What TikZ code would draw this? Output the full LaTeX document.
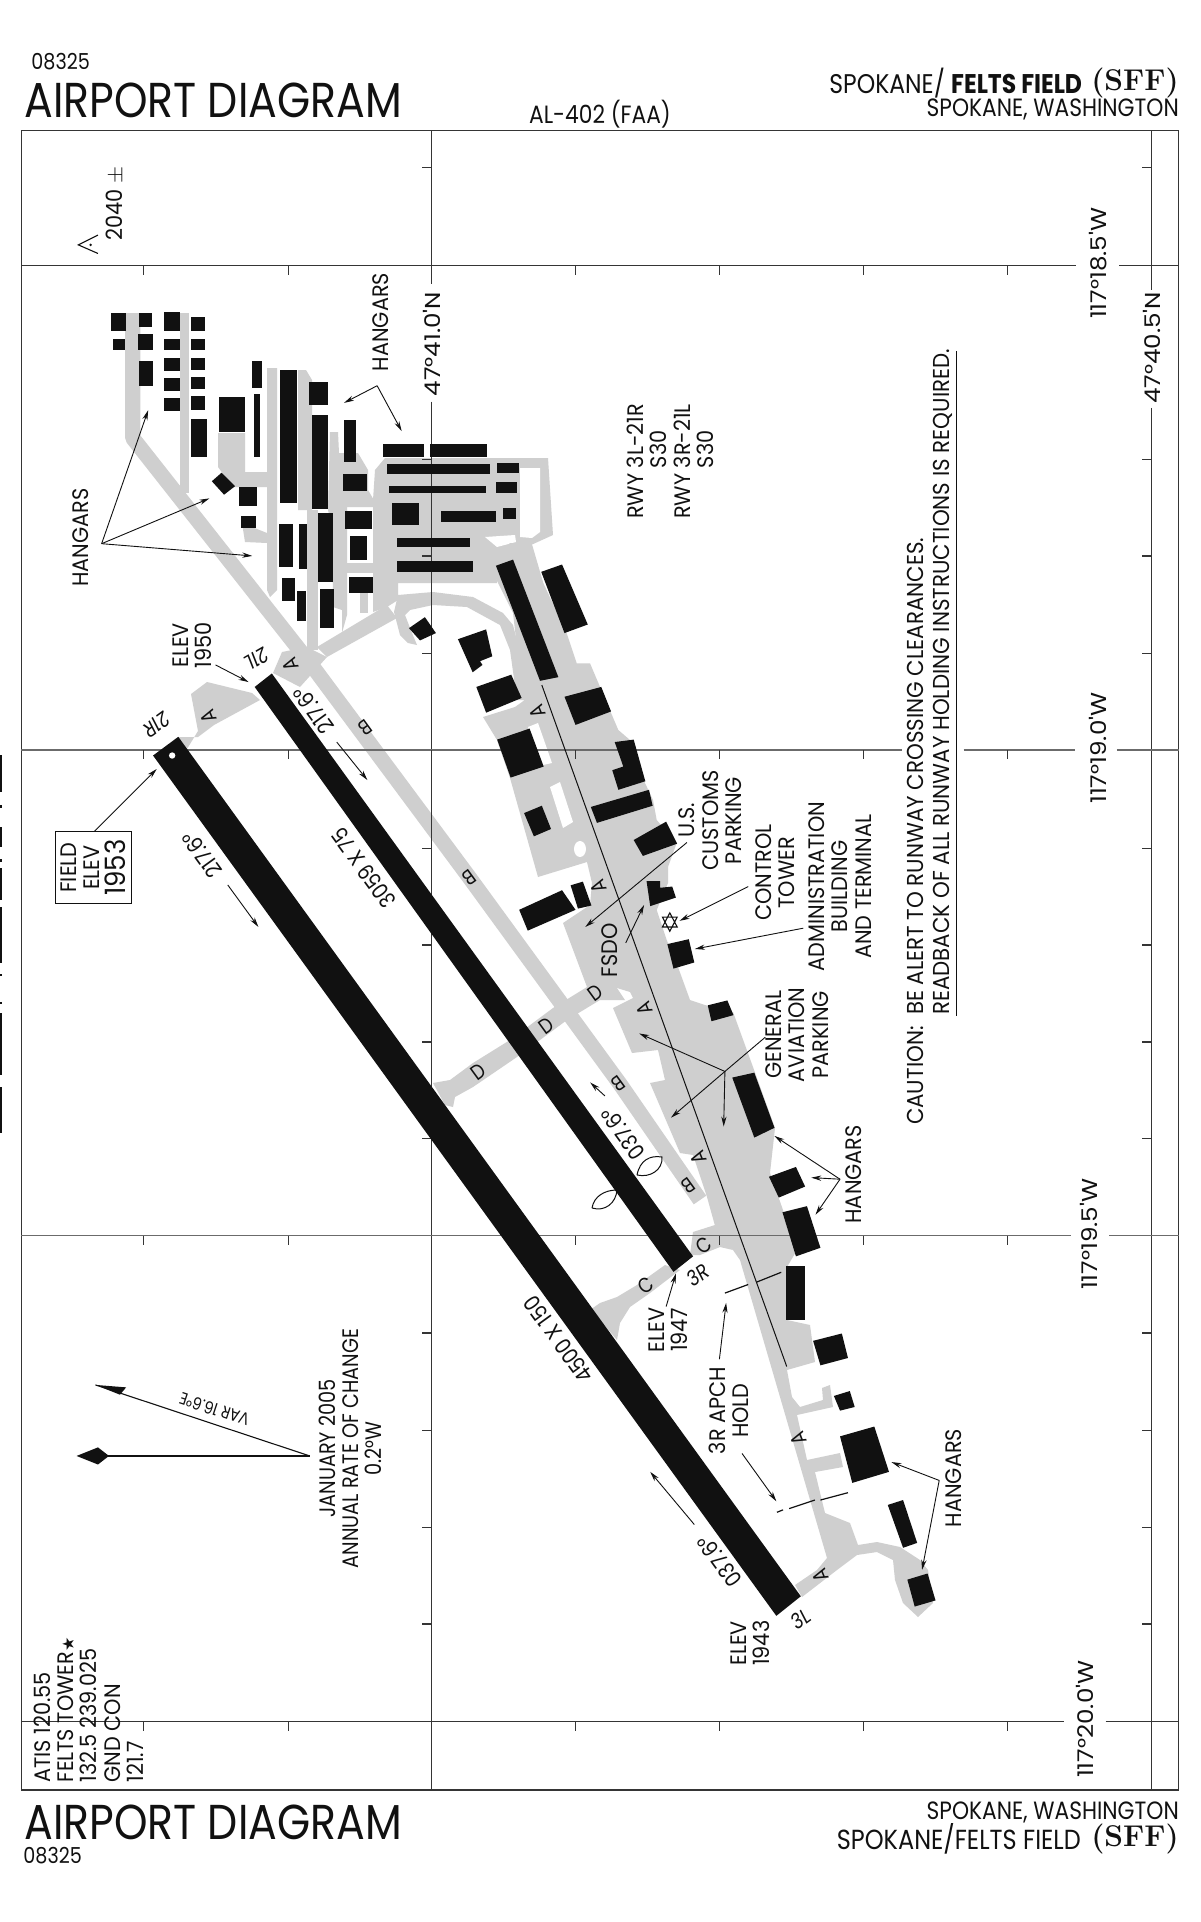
\documentclass[tikz,border=0pt]{standalone}
\usepackage{fontspec}
\usetikzlibrary{arrows.meta}
\newfontfamily\vf{Poppins}[FakeStretch=0.93]
\newfontfamily\nf{Poppins}[FakeStretch=0.86]
\newfontfamily\cf{Poppins}[FakeStretch=1.14]
\newfontfamily\hf{Poppins}[FakeStretch=0.87]
\newfontfamily\djv{DejaVu Sans}
\definecolor{tw}{HTML}{CFCFCF}
\definecolor{bk}{HTML}{111111}
\newcommand{\bld}[4]{\fill[bk] (#1,#3) rectangle (#2,#4);}
\tikzset{
 lab/.style={inner sep=0pt,align=center,text=bk,font=\vf\fontsize{11.2}{11.6}\selectfont},
 vlab/.style={lab,rotate=90},
 clab/.style={lab,rotate=90,font=\cf\fontsize{10.8}{11.6}\selectfont},
 nlab/.style={lab,rotate=90,font=\nf\fontsize{11.2}{11.6}\selectfont},
 rlab/.style={lab,rotate=126,font=\nf\fontsize{11.2}{11.6}\selectfont},
 twy/.style={lab,font=\nf\fontsize{10.5}{11}\selectfont},
 hd/.style={inner sep=0pt,text=bk},
 thin1/.style={line width=0.5pt,draw=bk},
 lead/.style={line width=0.45pt,draw=bk,-{Stealth[length=5pt,width=2.6pt]}},
 leadn/.style={line width=0.45pt,draw=bk},
 grid/.style={line width=0.6pt,draw=bk!85},
 gridb/.style={line width=0.85pt,draw=bk!62},
}
\begin{document}
\begin{tikzpicture}[x=0.5pt,y=-0.5pt]
\useasboundingbox (0,0) rectangle (1200,1922);
\fill[white] (0,0) rectangle (1200,1922);
% clipped remains of a margin text at the left edge
\draw[bk,line width=1.1pt] (1,755)--(1,792) (1,805)--(1,808) (1,827)--(1,847) (1,859)--(1,862) (1,868)--(1,900) (1,907)--(1,963) (1,974)--(1,976) (1,1002)--(1,1004) (1,1013)--(1,1075) (1,1087)--(1,1133);
% ---------- grey taxiways, real px
\draw[tw,line width=7.6pt,line join=round] (132.7,313)--(132.7,438)--(313,667)--(469,877)--(620,1084)--(700,1200);
\draw[tw,line width=4.7pt] (184.7,313)--(184.7,493);
\fill[tw] (218,433)--(245,433)--(245,472)--(267,472)--(267,487)--(233,487)--(218,467)--cycle;
\fill[tw] (267,368)--(277,368)--(277,590)--(270,597)--(267,590)--cycle;
\fill[tw] (242,523)--(267,533)--(267,543)--(245,542)--cycle;
\fill[tw] (298,370)--(306,370)--(312,380)--(312,510)--(298,510)--cycle;
\fill[tw] (307,510)--(318,510)--(318,650)--(307,650)--cycle;
\fill[tw] (330,432)--(338,432)--(339,453)--(358,453)--(368,470)--(368,490)--(375,502)--(375,507)--(347,507)--(347,527)--(332,527)--(328,510)--cycle;
\fill[tw] (332,510)--(347,510)--(347,615)--(342,633)--(342,610)--(333,607)--cycle;
\fill[tw] (347,563) rectangle (398,573);
\fill[tw] (360,592) rectangle (368,613);
% band to junction
\fill[tw] (317,647)--(387,605)--(397,618)--(327,657)--cycle;
\fill[tw] (282,652)--(307,647)--(327,657)--(300,687)--(273,673)--cycle;
% block
\fill[tw] (375,470)--(385,458)--(548,458)--(553,535)--(531,545)--(495,560)--(497,583)--(398,583)--(398,600)--(387,607)--(373,612)--(373,500)--cycle;
\fill[white] (520,468)--(540,468)--(540,532)--(532,538)--(520,537)--cycle;
\fill[white] (485,537)--(515,535)--(516,542)--(497,547)--cycle;
% curved road and hook
\fill[tw] (398,595)--(433,592)--(473,597)--(503,613)--(513,625)--(528,683)--(528,700)--(517,700)--(510,650)--(500,625)--(467,607)--(433,605)--(410,610)--(405,615)--(412,633)--(417,645)--(408,643)--(400,635)--(394,612)--cycle;
% main apron
\fill[tw] (531.7,543.3)--(543.3,583)--(566.7,633.3)--(576.7,663.3)--(590,663.3)--(618.3,730)--(630,740)--(645,783)--(653,800)--(656.7,820)--(676.7,843)--(668,867)--(668,883)--(656.7,910)--(666.7,940)--(678,967)--(690,1000)--(705,1005)--(733,1012)--(753,1067)--(775,1128)--(770,1173)--(783,1210)--(790,1237)--(797,1250)--(787,1267)--(787,1320)--(810,1325)--(815,1362)--(787,1370)--(792,1397)--(800,1407)--(823,1400)--(822,1388)--(830,1385)--(833,1407)--(797,1415)--(807,1460)--(840,1453)--(843,1467)--(815,1472)--(825,1513)--(850,1523)--(858,1545)--(877,1542)--(900,1547)--(920,1560)--(928,1570)--(933,1603)--(918,1617)--(903,1603)--(895,1580)--(893,1560)--(877,1552)--(857,1555)--(837,1570)--(802,1597)--(795,1585)--(817,1570)--(827,1558)--(740,1260)--(733,1250)--(717,1233)--(707,1197)--(693,1155)--(680,1153)--(650,1083)--(665,1080)--(658,1050)--(632,1053)--(613,1008)--(633,998)--(630,992)--(617,988)--(603,993)--(587,987)--(563,923)--(590,905)--(592,883)--(587,862)--(538,877)--(510,778)--(497,740)--(483,717)--(515,707)--(522,702)--(528,697)--(517,647)--(513,613)--(495,577)--(493,560)--(510,543)--cycle;
\fill[white] (528,727)--(538,723)--(552,763)--(543,765)--cycle;
\fill[white] (550,787)--(560,782)--(573,822)--(563,828)--cycle;
\fill[white] (580,849) ellipse (6 and 8);
% D, C, A connectors
\fill[tw] (433,1083)--(450,1080)--(473,1063)--(510,1040)--(553,1008)--(587,987)--(617,988)--(625,1000)--(600,1000)--(567,1020)--(517,1057)--(473,1087)--(455,1097)--(453,1107)--(445,1105)--cycle;
\fill[tw] (590,1310)--(600,1303)--(617,1297)--(637,1285)--(665,1265)--(680,1270)--(650,1293)--(630,1307)--(620,1323)--(617,1340)--(600,1320)--cycle;
\fill[tw] (690,1255)--(693,1232)--(715,1225)--(733,1250)--(720,1247)--(700,1255)--cycle;
\fill[tw] (178,737)--(187,749)--(198,731)--(191,694)--(207,682)--(252,693)--(260,700)--(214,725)--(198,737)--cycle;
% ---------- S-coordinates
\begin{scope}[scale=1.2245]
% frame and grid
\draw[grid,line width=.8pt] (17.5,106.5) rectangle (962.5,1462);
\draw[grid] (352.5,106.5)--(352.5,232) (352.5,328)--(352.5,1462);
\draw[grid] (940.6,106.5)--(940.6,237) (940.6,333)--(940.6,1462);
\draw[grid] (17.5,216.7)--(879,216.7) (914,216.7)--(962.5,216.7);
\draw[gridb] (17.5,612.5)--(737,612.5) (787,612.5)--(878,612.5) (912,612.5)--(962.5,612.5);
\draw[gridb] (17.5,1009)--(875,1009) (906,1009)--(962.5,1009);
\draw[grid] (17.5,1406)--(869,1406) (903,1406)--(962.5,1406);
\foreach \y in {216.7,612.5,1009,1406}
 \foreach \x in {117.5,235.6,352.5,470,587.5,705,822.5}
  \draw[grid] (\x,\y)--(\x,\y+7.5);
\foreach \y in {136.7,375,454,533.7,692.7,771.7,851,930,1088.6,1168,1247.3,1326.3}{
  \draw[grid] (352.5,\y)--(345,\y);
  \draw[grid] (940.6,\y)--(933,\y);}
% rectangular buildings
\bld{90.6}{103}{255.7}{270}\bld{113.8}{123.8}{255.7}{266.7}\bld{134}{147}{255}{270.7}\bld{156}{167.5}{259}{270}
\bld{92.5}{102}{277}{286}\bld{112.5}{125}{273}{286}\bld{134}{147}{277}{286}\bld{156}{167.5}{277}{286}
\bld{113.8}{125}{295}{315}\bld{134}{147}{292}{303}\bld{156}{167.5}{292}{302}
\bld{134}{147}{309}{319}\bld{156}{167.5}{308}{318}\bld{134}{147}{325}{336}\bld{156}{167.5}{323}{335}
\bld{156}{169}{342}{373}\bld{179}{200}{324}{353}\bld{206}{214}{295}{317}\bld{207.5}{212.5}{322}{373}
\bld{229}{242.5}{302}{411}\bld{252}{267.5}{312}{331}\bld{255}{267.5}{339}{416}\bld{281}{291}{343}{377}
\bld{280}{300}{387}{401}\bld{195}{210}{398}{413}\bld{197}{209}{421}{431}
\bld{228}{239}{428}{463}\bld{244}{251}{428}{465}\bld{260}{272}{419}{475}
\bld{282}{304}{417}{432}\bld{286}{300}{438}{457}\bld{285}{305}{471}{484}
\bld{230}{241}{472}{491}\bld{242.5}{250}{483}{507}\bld{261}{272.5}{481}{513}
\bld{313}{346}{363}{373}\bld{351}{398}{363}{373}\bld{316}{400}{379}{387}\bld{406}{424}{378}{386}
\bld{317.5}{397}{397}{403}\bld{405}{422.5}{394}{403}\bld{320}{342}{411}{429}\bld{360}{405}{417}{426}\bld{411}{421}{415}{424}
\bld{324}{384}{439}{447}\bld{324}{386}{458}{467}\bld{642}{657}{1034}{1078}
% skew buildings
\fill[bk] (181,386)--(192,397)--(183,404)--(173,393)--cycle;
\fill[bk] (405,462)--(419,457)--(456,553)--(441,556)--cycle;
\fill[bk] (442,467)--(459,461)--(480,510)--(461,517)--cycle;
\fill[bk] (334,513)--(347,504)--(356,517)--(343,523)--cycle;
\fill[bk] (374,522)--(397,514)--(402,536)--(392,540)--(394,543)--(386,549)--cycle;
\fill[bk] (389,561)--(417.5,551)--(426,570)--(397,582)--cycle;
\fill[bk] (461,569)--(491,561)--(499,581)--(470,592)--cycle;
\fill[bk] (406,604)--(432.5,595)--(444,626)--(417,635)--cycle;
\fill[bk] (502,606)--(517.5,604)--(527,638)--(505,645)--(500,629)--(509,626)--cycle;
\fill[bk] (482.5,659)--(530,645)--(533,658)--(487.5,672)--cycle;
\fill[bk] (428,664)--(442.5,658)--(450,677)--(436,683)--cycle;
\fill[bk] (517.5,686)--(544,671)--(553,689)--(525,699)--cycle;
\fill[bk] (424,743)--(459,727)--(470,743)--(431,760)--cycle;
\fill[bk] (466,723)--(476,720)--(483,739.5)--(472,742)--cycle;
\fill[bk] (528,719.5)--(539,719.5)--(539,725)--(549,724)--(552,733)--(531,740)--cycle;
\fill[bk] (545,771)--(562.5,767)--(567,786)--(550,791)--cycle;
\fill[bk] (578,821)--(594,817)--(599,829)--(581,834)--cycle;
\fill[bk] (598,880)--(616,876)--(632.5,921)--(616,929)--cycle;
\fill[bk] (628,961)--(650,953)--(657.5,969)--(636,978)--cycle;
\fill[bk] (639,990)--(659,985)--(670,1019)--(650,1026)--cycle;
\fill[bk] (664,1095)--(687.5,1089)--(692.5,1109)--(670,1115)--cycle;
\fill[bk] (681,1140)--(694,1136)--(698,1149)--(686,1152)--cycle;
\fill[bk] (686,1173)--(714,1165)--(726,1202)--(696,1211)--cycle;
\fill[bk] (725,1229)--(737.5,1225)--(749,1260)--(737.5,1264)--cycle;
\fill[bk] (741,1290)--(757.5,1285)--(764,1307)--(747,1312)--cycle;
% runways
\fill[bk] (145.6,601.7)--(125,617)--(634,1319.6)--(654,1303.6)--cycle;
\fill[bk] (222,550)--(208,561)--(550,1038.7)--(566,1026)--cycle;
\fill[white] (140.6,617) circle (2.6);
% centre line
\draw[thin1] (442.5,559.5)--(642.5,1116);
% control tower star
\draw[bk,line width=0.55pt] (547,745.5)--(553,757)--(541,757)--cycle (547,760.5)--(553,749)--(541,749)--cycle;
% leaders
\draw[lead] (308,315)--(281,329);
\draw[lead] (308,315)--(328,352);
\draw[lead] (83,444)--(121,335); \draw[lead] (83,444)--(171,407); \draw[lead] (83,444)--(206,454);
\draw[lead] (77,679)--(128,628);
\draw[lead] (176,543)--(203,557);
\draw[lead] (186,722.7)--(211,757);
\draw[lead] (275,606)--(300,637);
\draw[lead] (561,688)--(478,757);
\draw[lead] (511,770)--(526,739);
\draw[lead] (611,724)--(555,752);
\draw[lead] (656,758)--(567.5,775);
\draw[leadn] (625,847)--(592,875);
\draw[lead] (592,875)--(522,844); \draw[lead] (592,875)--(548,912.7); \draw[lead] (592,875)--(591,920);
\draw[lead] (686,963)--(632.5,927.7); \draw[lead] (686,963)--(662.5,961.7); \draw[lead] (686,963)--(666,992);
\draw[lead] (494,895)--(482,884);
\draw[lead] (544,1067)--(552,1040);
\draw[lead] (587.5,1110)--(593,1064);
\draw[lead] (606,1187)--(634,1226);
\draw[lead] (567,1245)--(531,1202);
\draw[lead] (767,1209)--(728,1194); \draw[lead] (767,1209)--(753,1282);
% hold lines
\draw[thin1,line width=.6pt] (592,1056)--(611,1049) (618,1047)--(638,1039);
\draw[thin1,line width=.6pt] (634.5,1235)--(639.5,1233) (644.5,1232)--(665.5,1225) (670,1225)--(692.5,1219);
% magnetic variation
\draw[bk,line width=0.8pt] (253,1189)--(75,1189);
\fill[bk] (62.5,1189)--(80,1182)--(89,1189)--(80,1196)--cycle;
\draw[bk,line width=0.55pt] (253,1189)--(78,1131);
\fill[bk] (78,1131)--(103,1133)--(98,1139)--cycle;
% obstacle
\draw[bk,line width=.55pt] (80,192)--(64,200)--(80,207);
\fill[bk] (74,200) circle (1.1);
% underline and field elevation box
\draw[thin1,line width=.7pt] (781,287)--(781,830);
\draw[thin1,line width=.6pt] (45,679) rectangle (107.5,738);
% ---- headers
\node[hd,font=\hf\fontsize{11}{11}\selectfont] (n1) at (49.5,50.5) {08325};
\node[hd,font=\hf\fontsize{24.5}{24.5}\selectfont] (t1) at (174,82) {AIRPORT DIAGRAM};
\node[hd,font=\hf\fontsize{12.5}{12.5}\selectfont] (al) at (490,93) {AL-402 (FAA)};
\node[hd,anchor=east,font=\hf\fontsize{13.5}{13.5}\selectfont] (t2) at (884,68) {SPOKANE/ \textbf{FELTS FIELD}};
\node[hd,anchor=east,font=\rmfamily\bfseries\fontsize{15}{15}\selectfont] (t3) at (963,68) {(SFF)};
\node[hd,anchor=east,font=\hf\fontsize{12.5}{12.5}\selectfont] (t4) at (963,89) {SPOKANE, WASHINGTON};
\node[hd,font=\hf\fontsize{24.5}{24.5}\selectfont] (b1) at (174,1488) {AIRPORT DIAGRAM};
\node[hd,font=\hf\fontsize{11}{11}\selectfont] (b2) at (43,1515.5) {08325};
\node[hd,anchor=east,font=\hf\fontsize{12.5}{12.5}\selectfont] (b3) at (963,1480.5) {SPOKANE, WASHINGTON};
\node[hd,anchor=east,font=\hf\fontsize{13.8}{13.8}\selectfont] (b4) at (883,1501.5) {SPOKANE/FELTS FIELD};
\node[hd,anchor=east,font=\rmfamily\bfseries\fontsize{15}{15}\selectfont] (b5) at (963,1501.5) {(SFF)};
% ---- rotated labels
\node[vlab] (l1) at (94,166) {2040 \(\pm\)};
\node[clab] (l2) at (897,215) {117°18.5'W};
\node[clab] (l3) at (897,611) {117°19.0'W};
\node[clab] (l4) at (889,1008) {117°19.5'W};
\node[clab] (l5) at (886,1404) {117°20.0'W};
\node[clab] (l6) at (353,281) {47°41.0'N};
\node[clab] (l7) at (940.6,284) {47°40.5'N};
\node[vlab] (h1) at (311,263) {HANGARS};
\node[vlab] (h2) at (66,439) {HANGARS};
\node[vlab] (h3) at (697,959) {HANGARS};
\node[vlab] (h4) at (779,1207) {HANGARS};
\node[vlab,anchor=west] (r1) at (519,424) {RWY 3L-21R};
\node[vlab] (r2) at (538,367) {S30};
\node[vlab,anchor=west] (r3) at (557,424) {RWY 3R-21L};
\node[vlab] (r4) at (576,367) {S30};
\node[vlab,anchor=west,font=\vf\fontsize{11.5}{11.6}\selectfont] (c1) at (748,919) {CAUTION:\ \ BE ALERT TO RUNWAY CROSSING CLEARANCES.};
\node[vlab,anchor=west,font=\vf\fontsize{11.5}{11.6}\selectfont] (c2) at (770,829) {READBACK OF ALL RUNWAY HOLDING INSTRUCTIONS IS REQUIRED.};
\node[vlab] (f1) at (76,708.5) {FIELD\\ELEV\\[1pt]{\fontsize{14}{14}\selectfont 1953}};
\node[vlab] (e1) at (157,527) {ELEV\\1950};
\node[vlab] (e2) at (546,1086) {ELEV\\1947};
\node[vlab] (e3) at (613,1342) {ELEV\\1943};
\node[vlab] (a1) at (595.5,1152) {3R APCH\\HOLD};
\node[vlab] (u1) at (580,670) {U.S.\\CUSTOMS\\PARKING};
\node[vlab] (u2) at (633,712.7) {CONTROL\\TOWER};
\node[vlab] (u3) at (686,724) {ADMINISTRATION\\BUILDING\\AND TERMINAL};
\node[vlab] (u4) at (651,845) {GENERAL\\AVIATION\\PARKING};
\node[vlab] (u5) at (498,776) {FSDO};
\node[nlab] (j1) at (286,1183) {JANUARY 2005\\ANNUAL RATE OF CHANGE\\0.2°W};
\node[lab,rotate=161.7,font=\nf\fontsize{8.5}{8.5}\selectfont] (v1) at (175,1151) {VAR 16.6°E};
\node[vlab,anchor=west,align=left] (at) at (72.5,1456) {ATIS 120.55\\FELTS TOWER{\djv\fontsize{8}{8}\selectfont ★}\\132.5 239.025\\GND CON\\121.7};
% ---- runway labels
\node[rlab] (w1) at (165,698) {217.6°};
\node[rlab] (w2) at (256,580) {217.6°};
\node[rlab] (w3) at (297,709) {3059 X 75};
\node[rlab] (w4) at (456,1094) {4500 X 150};
\node[rlab] (w5) at (587.5,1275) {037.6°};
\node[rlab] (w6) at (509,926) {037.6°};
\node[twy,rotate=216,font=\nf\itshape\fontsize{10.5}{11}\selectfont] (n21r) at (128,592) {21R};
\node[twy,rotate=210,font=\nf\itshape\fontsize{10.5}{11}\selectfont] (n21l) at (210,538) {21L};
\node[twy,rotate=36,font=\nf\itshape\fontsize{10.5}{11}\selectfont] (n3r) at (570,1041) {3R};
\node[twy,rotate=36,font=\nf\itshape\fontsize{10.5}{11}\selectfont] (n3l) at (654,1322) {3L};
% ---- taxiway letters
\foreach \n/\x/\y in {a/170/585,b/237.5/543,c/439/581,d/489/724,e/526/824,f/570/945,g/652/1175,h/670/1287}
 \node[twy,rotate=112] (A\n) at (\x,\y) {A};
\foreach \n/\x/\y in {a/298/594,b/383/717,c/505/885,d/562.5/968}
 \node[twy,rotate=216] (B\n) at (\x,\y) {B};
\foreach \n/\x/\y in {a/575/1017,b/527/1050}
 \node[twy,rotate=36] (C\n) at (\x,\y) {C};
\foreach \n/\x/\y in {a/486/811,b/446/838,c/391/875}
 \node[twy,rotate=36] (D\n) at (\x,\y) {D};
\end{scope}
% leaves near runway 3R, real px
\draw[bk,line width=.5pt] (637,1175) .. controls (640,1160) and (650,1155) .. (662,1157) .. controls (663,1170) and (650,1178) .. (637,1175);
\draw[bk,line width=.5pt] (592,1208) .. controls (594,1196) and (605,1190) .. (617,1190) .. controls (616,1203) and (605,1212) .. (592,1208);
\end{tikzpicture}
\end{document}
